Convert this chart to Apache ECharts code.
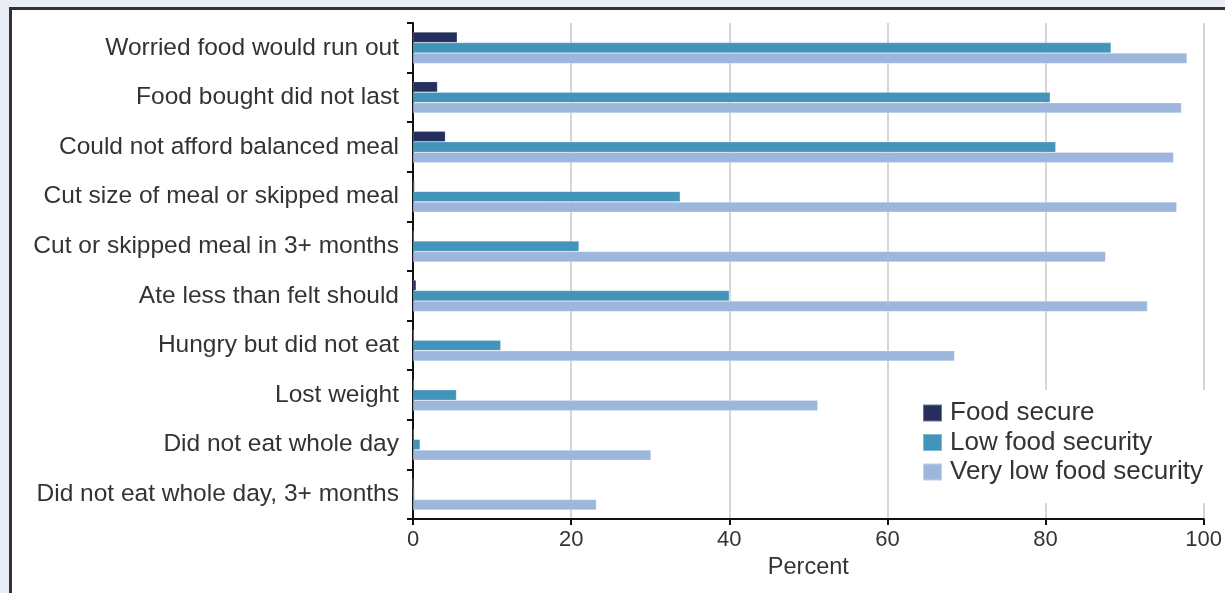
<!DOCTYPE html>
<html>
<head>
<meta charset="utf-8">
<script src="https://cdn.jsdelivr.net/npm/echarts@6/dist/echarts.min.js"></script>
<style>
html,body{margin:0;padding:0;width:1225px;height:593px;overflow:hidden;background:#e9edf6;}
#frame{position:absolute;left:9px;top:7px;width:1240px;height:600px;background:#fff;border-left:3px solid #333;border-top:3px solid #333;}
#chart{position:absolute;left:0;top:0;width:1225px;height:593px;}
</style>
</head>
<body>
<div id="frame"></div>
<div id="chart"></div>
<script>
const categories = [
  "Worried food would run out",
  "Food bought did not last",
  "Could not afford balanced meal",
  "Cut size of meal or skipped meal",
  "Cut or skipped meal in 3+ months",
  "Ate less than felt should",
  "Hungry but did not eat",
  "Lost weight",
  "Did not eat whole day",
  "Did not eat whole day, 3+ months"
];
const foodSecure = [5.6, 3.1, 4.1, 0.2, 0.1, 0.4, 0.1, 0.1, 0.1, 0.0];
const lowFoodSecurity = [88.3, 80.6, 81.3, 33.8, 21.0, 40.0, 11.1, 5.5, 0.9, 0.2];
const veryLowFoodSecurity = [97.9, 97.2, 96.2, 96.6, 87.6, 92.9, 68.5, 51.2, 30.1, 23.2];
const seriesNames = ["Food secure", "Low food security", "Very low food security"];
const xTicks = [0, 20, 40, 60, 80, 100];

const font = "'Liberation Sans', Arial, sans-serif";
const colors = ["#252f5e", "#4394bb", "#9db7dc"];
const chart = echarts.init(document.getElementById('chart'));
const mk = (name, data, i) => ({
  name, type: 'bar', data, barWidth: 10.5, barGap: '0%',
  itemStyle: { color: colors[i], borderColor: 'rgba(255,255,255,0.35)', borderWidth: 0.6 },
  z: 3
});
chart.setOption({
  animation: false,
  textStyle: { fontFamily: font },
  grid: { left: 413, right: 9, top: 23, bottom: 74, containLabel: false },
  xAxis: {
    type: 'value', min: xTicks[0], max: xTicks[xTicks.length - 1], interval: 20,
    name: 'Percent', nameLocation: 'middle', nameGap: 37,
    nameTextStyle: { fontSize: 23.5, color: '#333', fontFamily: font },
    axisLine: { show: true, lineStyle: { color: '#111', width: 2 } },
    axisTick: { show: true, length: 6, lineStyle: { color: '#111', width: 2 } },
    axisLabel: { fontSize: 22, color: '#333', margin: 10, fontFamily: font },
    splitLine: { show: true, lineStyle: { color: '#d6d6d6', width: 2 } }
  },
  yAxis: {
    type: 'category', data: categories, inverse: true,
    axisLine: { show: true, lineStyle: { color: '#111', width: 2 } },
    axisTick: { show: true, length: 6, alignWithLabel: false, lineStyle: { color: '#111', width: 2 } },
    axisLabel: { fontSize: 24.5, color: '#333', margin: 14, fontFamily: font },
    splitLine: { show: false }
  },
  legend: {
    orient: 'vertical', left: 908, top: 390,
    itemWidth: 19, itemHeight: 17, itemGap: 3.5,
    backgroundColor: '#fff',
    padding: [10, 12, 18, 14],
    textStyle: { fontSize: 26, lineHeight: 26, color: '#333', fontFamily: font, padding: [0, 0, 0, 3] },
    data: seriesNames,
    icon: 'rect'
  },
  series: [
    mk(seriesNames[0], foodSecure, 0),
    mk(seriesNames[1], lowFoodSecurity, 1),
    mk(seriesNames[2], veryLowFoodSecurity, 2)
  ]
});
</script>
</body>
</html>
